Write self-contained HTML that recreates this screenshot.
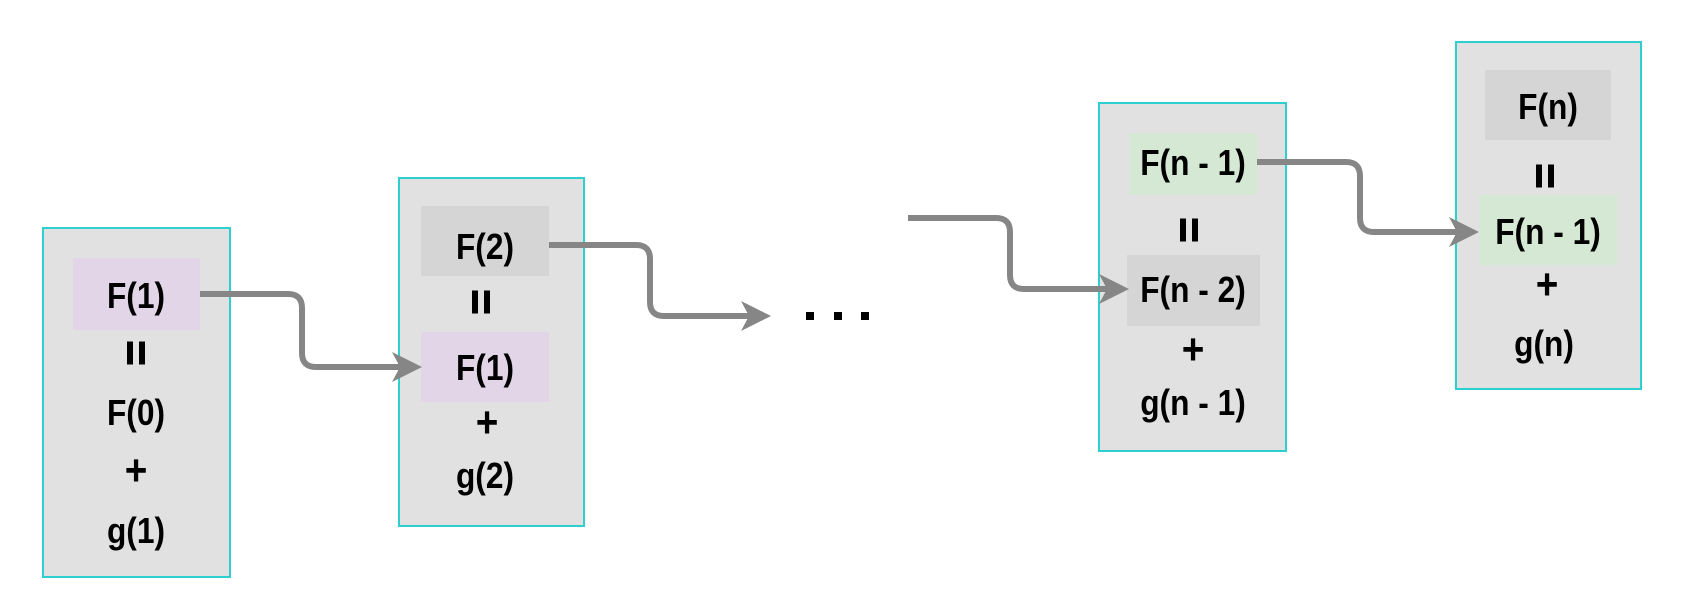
<!DOCTYPE html>
<html><head><meta charset="utf-8"><style>
html,body{margin:0;padding:0;background:#fff;width:1690px;height:613px;overflow:hidden}
.box{position:absolute;background:#e1e1e1;border:2px solid #2ecfcf;box-sizing:border-box}
.hl{position:absolute}
.t{position:absolute;font-family:"Liberation Sans",sans-serif;font-weight:bold;font-size:36px;color:#000;transform:translate(-50%,-50%) scaleX(0.88);white-space:nowrap;line-height:1}
.p{font-size:44px}
.eq{position:absolute;width:6px;height:23px;border-left:6px solid #000;border-right:6px solid #000;transform:translate(-50%,-50%)}
svg{position:absolute;left:0;top:0}
</style></head><body>
<div class="box" style="left:42px;top:227px;width:189px;height:351px"></div>
<div class="hl" style="left:73px;top:258px;width:127px;height:72px;background:#e1d5e7"></div>
<div class="t" style="left:136px;top:296px">F(1)</div>
<div class="eq" style="left:136px;top:353px"></div>
<div class="t" style="left:136px;top:413px">F(0)</div>
<div class="t p" style="left:136px;top:471px">+</div>
<div class="t" style="left:136px;top:531px">g(1)</div>

<div class="box" style="left:398px;top:177px;width:187px;height:350px"></div>
<div class="hl" style="left:421px;top:206px;width:128px;height:70px;background:#d5d5d5"></div>
<div class="t" style="left:485px;top:247px">F(2)</div>
<div class="eq" style="left:481px;top:302px"></div>
<div class="hl" style="left:421px;top:332px;width:128px;height:70px;background:#e1d5e7"></div>
<div class="t" style="left:485px;top:368px">F(1)</div>
<div class="t p" style="left:487px;top:423px">+</div>
<div class="t" style="left:485px;top:476px">g(2)</div>

<div class="box" style="left:1098px;top:102px;width:189px;height:350px"></div>
<div class="hl" style="left:1130px;top:133px;width:127px;height:62px;background:#d5e8d4"></div>
<div class="t" style="left:1193px;top:163px">F(n - 1)</div>
<div class="eq" style="left:1189px;top:230px"></div>
<div class="hl" style="left:1127px;top:255px;width:133px;height:71px;background:#d5d5d5"></div>
<div class="t" style="left:1193px;top:290px">F(n - 2)</div>
<div class="t p" style="left:1193px;top:350px">+</div>
<div class="t" style="left:1193px;top:403px">g(n - 1)</div>

<div class="box" style="left:1455px;top:41px;width:187px;height:349px"></div>
<div class="hl" style="left:1485px;top:70px;width:126px;height:70px;background:#d5d5d5"></div>
<div class="t" style="left:1548px;top:107px">F(n)</div>
<div class="eq" style="left:1545px;top:176px"></div>
<div class="hl" style="left:1479px;top:195px;width:138px;height:70px;background:#d5e8d4"></div>
<div class="t" style="left:1548px;top:232px">F(n - 1)</div>
<div class="t p" style="left:1547px;top:285px">+</div>
<div class="t" style="left:1544px;top:344px">g(n)</div>

<svg width="1690" height="613" viewBox="0 0 1690 613">
<g fill="none" stroke="#868686" stroke-width="6">
<path d="M200 294 H288 Q302 294 302 308 V353 Q302 367 316 367 H405"/>
<path d="M549 245 H636 Q650 245 650 259 V302 Q650 316 664 316 H755"/>
<path d="M908 218 H996 Q1010 218 1010 232 V275 Q1010 289 1024 289 H1112"/>
<path d="M1257 162 H1346 Q1360 162 1360 176 V218 Q1360 232 1374 232 H1462"/>
</g>
<g fill="#868686">
<path d="M422 367 L392 352 L400 367 L392 382 Z"/>
<path d="M771 316 L741 301 L749 316 L741 331 Z"/>
<path d="M1129 289 L1099 274 L1107 289 L1099 304 Z"/>
<path d="M1479 232 L1449 217 L1457 232 L1449 247 Z"/>
</g>
<g fill="#000">
<rect x="806" y="312" width="8" height="8"/>
<rect x="834" y="312" width="8" height="8"/>
<rect x="861" y="312" width="8" height="8"/>
</g>
</svg>
</body></html>
